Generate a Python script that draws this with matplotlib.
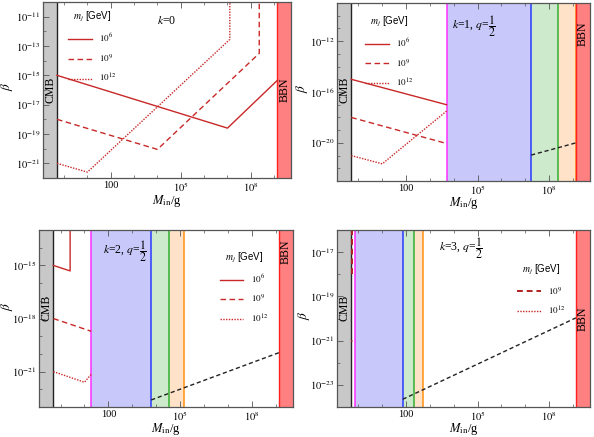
import numpy as np
import matplotlib
matplotlib.use('Agg')
import matplotlib.pyplot as plt

plt.rcParams['font.family'] = ['Liberation Serif', 'DejaVu Serif']
plt.rcParams['mathtext.fontset'] = 'stix'

# --- data (log10 values) ---
logM_CMB = -0.3
logM_BBN = 9.13
xlim_log = (-0.9, 9.72)

# k = 0
k0_solid_x = [-0.3, 7.0, 9.13]
k0_solid_y = [-15.0, -18.6, -15.35]
k0_dash_x = [-0.3, 4.0, 8.36, 8.36]
k0_dash_y = [-18.0, -20.05, -13.5, -9.0]
k0_dot_x = [-0.3, 1.0, 7.1, 7.1]
k0_dot_y = [-21.0, -21.6, -12.55, -9.0]

# k = 1
k1_solid_x = [-0.3, 3.7]
k1_solid_y = [-15.0, -17.0]
k1_dash_x = [-0.3, 3.7]
k1_dash_y = [-18.0, -20.05]
k1_dot_x = [-0.3, 1.0, 3.7]
k1_dot_y = [-21.0, -21.65, -17.5]
k1_black_x = [7.25, 9.13]
k1_black_y = [-20.96, -20.0]
k1_bands = [3.7, 7.25, 8.36, 9.13]   # magenta, blue, green, orange edges

# k = 2
k2_solid_x = [-0.3, 0.4, 0.4]
k2_solid_y = [-15.0, -15.31, -12.0]
k2_dash_x = [-0.3, 1.28]
k2_dash_y = [-18.0, -18.72]
k2_dot_x = [-0.3, 1.0, 1.28]
k2_dot_y = [-21.0, -21.6, -21.15]
k2_black_x = [3.79, 9.13]
k2_black_y = [-22.6, -19.93]
k2_bands = [1.28, 3.79, 4.55, 5.18]

# k = 3
k3_dash_x = [-0.27, -0.27]
k3_dash_y = [-18.0, -15.0]
k3_dot_x = [-0.3, -0.2]
k3_dot_y = [-21.0, -21.05]
k3_black_x = [1.86, 9.13]
k3_black_y = [-23.65, -19.97]
k3_bands = [-0.13, 1.86, 2.34, 2.71]

red = '#c82828'
p = lambda v: 10.0 ** np.array(v)

fig = plt.figure(figsize=(5.94, 4.37), dpi=100)


def setup(ax, ylim, ymajor, cmb_y, bbn_y, xlab_y, ylab_xy):
    ax.set_xscale('log')
    ax.set_yscale('log')
    ax.set_xlim(p(xlim_log[0]), p(xlim_log[1]))
    ax.set_ylim(p(ylim[0]), p(ylim[1]))
    ax.axvspan(p(xlim_log[0]), p(logM_CMB), color='#c8c8c8', zorder=0, lw=0)
    ax.axvline(p(logM_CMB), color='#222222', lw=1.0, zorder=5)
    ax.axvspan(p(logM_BBN), p(xlim_log[1]), color='#ff8080', zorder=4, lw=0)
    ax.axvline(p(logM_BBN), color='#ff2020', lw=1.0, zorder=5)
    x_cmb = (logM_CMB - xlim_log[0]) / (xlim_log[1] - xlim_log[0]) / 2
    x_bbn = 1 - (xlim_log[1] - logM_BBN) / (xlim_log[1] - xlim_log[0]) / 2
    ax.text(x_cmb, cmb_y, 'CMB', rotation=90, transform=ax.transAxes,
            ha='center', va='center', fontsize=8.5, zorder=6)
    ax.text(x_bbn, bbn_y, 'BBN', rotation=90, transform=ax.transAxes,
            ha='center', va='center', fontsize=8.5, zorder=6)
    ax.set_xticks([100, 1e5, 1e8])
    ax.set_xticklabels(['100', r'$10^{5}$', r'$10^{8}$'])
    ax.set_xticks(p(np.arange(0, 10)), minor=True)
    ax.set_xticklabels([], minor=True)
    ax.set_yticks(p(ymajor))
    ax.set_yticklabels([r'$10^{%d}$' % v for v in ymajor])
    ax.set_yticks(p(np.arange(int(ylim[0]), int(ylim[1]) + 1)), minor=True)
    ax.set_yticklabels([], minor=True)
    ax.tick_params(which='both', direction='in', top=True, right=True,
                   color='#555555', labelsize=7.5, pad=2)
    ax.tick_params(which='major', length=4, width=0.6)
    ax.tick_params(which='minor', length=2, width=0.5)
    for s in ax.spines.values():
        s.set_color('#555555')
        s.set_linewidth(0.9)
        s.set_zorder(10)
    ax.set_xlabel(r'$M_{\rm in}$/g', fontsize=9, va='center')
    ax.set_ylabel(r'$\beta$', fontsize=9.5, va='center')
    ax.xaxis.set_label_coords(0.5, xlab_y)
    ax.yaxis.set_label_coords(*ylab_xy)


def bands(ax, b):
    ax.axvspan(p(b[0]), p(b[1]), color='#c8c8fa', lw=0, zorder=1)
    ax.axvspan(p(b[1]), p(b[2]), color='#cdeacd', lw=0, zorder=1)
    ax.axvspan(p(b[2]), p(b[3]), color='#ffe2c8', lw=0, zorder=1)
    ax.axvline(p(b[0]), color='#ff30ff', lw=1.1, zorder=3)
    ax.axvline(p(b[1]), color='#2a3cff', lw=1.1, zorder=3)
    ax.axvline(p(b[2]), color='#30b030', lw=1.1, zorder=3)
    ax.axvline(p(b[3]), color='#ff9010', lw=1.1, zorder=3)


def legend(ax, anchor, handles):
    leg = ax.legend(handles=handles, loc='upper left', bbox_to_anchor=anchor,
                    frameon=False, title=r'$m_j$ [GeV]', handlelength=2.6,
                    labelspacing=0.9, prop={'family': 'Liberation Sans', 'size': 6.5})
    leg.get_title().set_fontsize(7)
    leg.get_title().set_family('Liberation Sans')
    leg.set_zorder(12)


# ---- panel k=0 ----
ax1 = fig.add_axes([0.0724, 0.5927, 0.4175, 0.4027])
setup(ax1, (-22, -10), [-21, -19, -17, -15, -13, -11], 0.5, 0.5, -0.13, (-0.145, 0.52))
h1, = ax1.plot(p(k0_solid_x), p(k0_solid_y), color=red, lw=1.0, ls='-', zorder=7, label=r'$10^{6}$')
h2, = ax1.plot(p(k0_dash_x), p(k0_dash_y), color=red, lw=1.0, ls=(0, (4, 2.5)), zorder=7, label=r'$10^{9}$')
h3, = ax1.plot(p(k0_dot_x), p(k0_dot_y), color=red, lw=1.0, ls=(0, (1, 1)), zorder=7, label=r'$10^{12}$')
legend(ax1, (0.07, 1.0), [h1, h2, h3])
ax1.text(0.5, 0.89, r'$k$=0', transform=ax1.transAxes, ha='center', va='center', fontsize=8.5)

# ---- panel k=1 ----
ax2 = fig.add_axes([0.5673, 0.5858, 0.4259, 0.4073])
setup(ax2, (-23, -9), [-20, -16, -12], 0.51, 0.83, -0.125, (-0.14, 0.52))
bands(ax2, k1_bands)
h1, = ax2.plot(p(k1_solid_x), p(k1_solid_y), color=red, lw=1.0, ls='-', zorder=7, label=r'$10^{6}$')
h2, = ax2.plot(p(k1_dash_x), p(k1_dash_y), color=red, lw=1.0, ls=(0, (4, 2.5)), zorder=7, label=r'$10^{9}$')
h3, = ax2.plot(p(k1_dot_x), p(k1_dot_y), color=red, lw=1.0, ls=(0, (1, 1)), zorder=7, label=r'$10^{12}$')
ax2.plot(p(k1_black_x), p(k1_black_y), color='#222222', lw=1.0, ls=(0, (3, 2)), zorder=8)
legend(ax2, (0.08, 0.98), [h1, h2, h3])
ax2.text(0.54, 0.87, r'$k$=1, $q$=$\dfrac{1}{2}$', transform=ax2.transAxes,
         ha='center', va='center', fontsize=8.5)

# ---- panel k=2 ----
ax3 = fig.add_axes([0.0657, 0.0686, 0.4276, 0.4050])
setup(ax3, (-23, -13), [-21, -18, -15], 0.56, 0.88, -0.125, (-0.125, 0.57))
bands(ax3, k2_bands)
h1, = ax3.plot(p(k2_solid_x), p(k2_solid_y), color=red, lw=1.0, ls='-', zorder=7, label=r'$10^{6}$')
h2, = ax3.plot(p(k2_dash_x), p(k2_dash_y), color=red, lw=1.0, ls=(0, (4, 2.5)), zorder=7, label=r'$10^{9}$')
h3, = ax3.plot(p(k2_dot_x), p(k2_dot_y), color=red, lw=1.0, ls=(0, (1, 1)), zorder=7, label=r'$10^{12}$')
ax3.plot(p(k2_black_x), p(k2_black_y), color='#222222', lw=1.0, ls=(0, (3, 2)), zorder=8)
legend(ax3, (0.68, 0.93), [h1, h2, h3])
ax3.text(0.34, 0.88, r'$k$=2, $q$=$\dfrac{1}{2}$', transform=ax3.transAxes,
         ha='center', va='center', fontsize=8.5)

# ---- panel k=3 ----
ax4 = fig.add_axes([0.5673, 0.0686, 0.4259, 0.4050])
setup(ax4, (-24, -16), [-23, -21, -19, -17], 0.56, 0.5, -0.125, (-0.13, 0.52))
bands(ax4, k3_bands)
h2, = ax4.plot(p(k3_dash_x), p(k3_dash_y), color='#b02020', lw=1.4, ls=(0, (3, 2)), zorder=7, label=r'$10^{9}$')
h3, = ax4.plot(p(k3_dot_x), p(k3_dot_y), color=red, lw=1.0, ls=(0, (1, 1)), zorder=7, label=r'$10^{12}$')
ax4.plot(p(k3_black_x), p(k3_black_y), color='#222222', lw=1.0, ls=(0, (3, 2)), zorder=8)
legend(ax4, (0.68, 0.86), [h2, h3])
ax4.text(0.49, 0.9, r'$k$=3, $q$=$\dfrac{1}{2}$', transform=ax4.transAxes,
         ha='center', va='center', fontsize=8.5)

fig.savefig('out.png', dpi=100)
plt.close(fig)
